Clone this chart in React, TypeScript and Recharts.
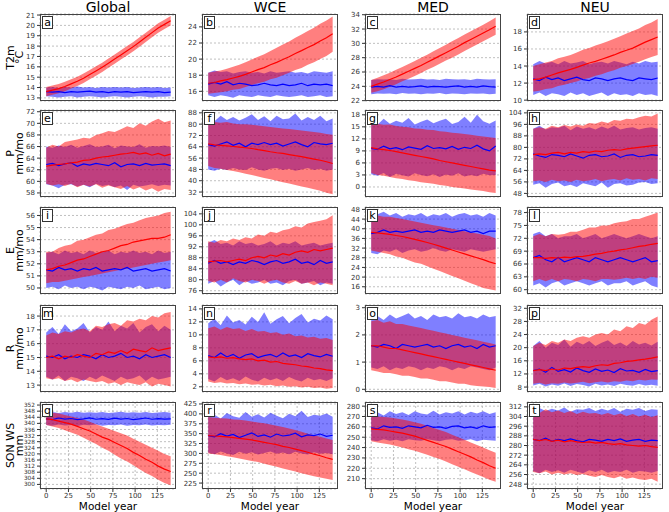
import { ComposedChart, Area, Line, XAxis, YAxis, CartesianGrid } from 'recharts';

const years = [0, 7, 14, 21, 28, 35, 42, 49, 56, 63, 70, 77, 84, 91, 98, 105, 112, 119, 126, 133, 140];
const columnTitles = ['Global', 'WCE', 'MED', 'NEU'];
const rowLabels = [['T2m', '°C'], ['P', 'mm/mo'], ['E', 'mm/mo'], ['R', 'mm/mo'], ['SON WS', 'mm']];
const xTicks = [0, 25, 50, 75, 100, 125];

// a: T2m Global
const aRedMid = [13.6, 13.75, 13.9, 14.1, 14.35, 14.6, 14.9, 15.25, 15.6, 15.95, 16.35, 16.75, 17.15, 17.55, 17.95, 18.4, 18.85, 19.3, 19.75, 20.1, 20.45];
const aRedLo = [13.15, 13.3, 13.45, 13.65, 13.9, 14.15, 14.45, 14.8, 15.15, 15.5, 15.9, 16.3, 16.7, 17.1, 17.5, 17.95, 18.4, 18.85, 19.3, 19.65, 20.0];
const aRedHi = [14.05, 14.2, 14.35, 14.55, 14.8, 15.05, 15.35, 15.7, 16.05, 16.4, 16.8, 17.2, 17.6, 18.0, 18.4, 18.85, 19.3, 19.75, 20.2, 20.55, 20.9];
const aBlueMid = [13.6, 13.55, 13.6, 13.5, 13.6, 13.55, 13.6, 13.65, 13.55, 13.6, 13.5, 13.6, 13.55, 13.6, 13.5, 13.55, 13.6, 13.55, 13.6, 13.5, 13.55];
const aBlueLo = [13.15, 13.1, 13.05, 13.1, 13.15, 13.05, 13.1, 13.15, 13.1, 13.05, 13.1, 13.15, 13.1, 13.05, 13.1, 13.15, 13.1, 13.05, 13.1, 13.1, 13.15];
const aBlueHi = [14.0, 14.05, 13.95, 14.05, 14.0, 14.1, 14.0, 14.05, 13.95, 14.05, 14.0, 14.05, 14.0, 14.05, 13.95, 14.0, 14.05, 14.0, 14.05, 13.95, 14.0];
const aTicks = [13, 14, 15, 16, 17, 18, 19, 20, 21];

// b: T2m WCE
const bRedMid = [17.0, 17.1, 17.3, 17.45, 17.65, 17.85, 18.1, 18.4, 18.7, 18.95, 19.3, 19.6, 19.95, 20.3, 20.7, 21.05, 21.45, 21.8, 22.25, 22.65, 23.15];
const bRedLo = [15.7, 15.8, 15.9, 16.0, 16.2, 16.3, 16.55, 16.8, 17.0, 17.2, 17.5, 17.7, 18.0, 18.3, 18.65, 18.9, 19.3, 19.6, 20.0, 20.4, 20.9];
const bRedHi = [18.3, 18.45, 18.6, 18.8, 19.05, 19.3, 19.6, 19.95, 20.3, 20.6, 21.0, 21.4, 21.8, 22.2, 22.65, 23.05, 23.5, 23.9, 24.4, 24.8, 25.3];
const bBlueMid = [16.9, 17.1, 16.9, 17.2, 16.8, 17.0, 16.9, 16.7, 16.8, 17.0, 16.8, 16.7, 16.9, 16.7, 16.8, 17.0, 16.7, 16.9, 16.8, 16.9, 16.7];
const bBlueLo = [15.5, 15.3, 15.5, 15.4, 15.2, 15.5, 15.4, 15.3, 15.5, 15.4, 15.3, 15.5, 15.4, 15.3, 15.4, 15.5, 15.3, 15.4, 15.5, 15.3, 15.4];
const bBlueHi = [18.3, 18.6, 18.4, 18.5, 18.2, 18.4, 18.5, 18.3, 18.4, 18.2, 18.5, 18.3, 18.4, 18.5, 18.3, 18.4, 18.2, 18.5, 18.4, 18.3, 18.5];
const bTicks = [16, 18, 20, 22, 24];

// c: T2m MED
const cRedMid = [24.0, 24.3, 24.6, 24.95, 25.3, 25.7, 26.1, 26.5, 26.9, 27.35, 27.8, 28.25, 28.7, 29.15, 29.6, 30.1, 30.55, 31.0, 31.45, 31.9, 32.4];
const cRedLo = [23.1, 23.3, 23.6, 23.95, 24.3, 24.7, 25.05, 25.45, 25.85, 26.3, 26.7, 27.15, 27.6, 28.0, 28.45, 28.95, 29.4, 29.85, 30.3, 30.75, 31.2];
const cRedHi = [24.9, 25.2, 25.55, 25.9, 26.3, 26.7, 27.1, 27.55, 28.0, 28.4, 28.9, 29.35, 29.8, 30.3, 30.75, 31.25, 31.7, 32.15, 32.6, 33.1, 33.6];
const cBlueMid = [23.9, 24.0, 23.9, 24.1, 23.9, 24.0, 23.9, 23.95, 24.05, 23.9, 24.0, 23.95, 23.9, 24.0, 24.05, 23.9, 24.0, 23.9, 24.05, 23.95, 23.9];
const cBlueLo = [22.9, 23.0, 22.95, 23.0, 22.9, 23.05, 22.95, 23.0, 22.9, 23.0, 22.95, 23.05, 22.9, 23.0, 22.95, 22.9, 23.0, 22.95, 23.0, 22.9, 22.95];
const cBlueHi = [24.9, 25.0, 24.95, 25.0, 24.9, 25.05, 24.95, 25.0, 25.05, 24.95, 25.0, 24.9, 25.05, 25.0, 24.95, 25.0, 24.9, 25.05, 25.0, 24.95, 25.0];
const cTicks = [22, 24, 26, 28, 30, 32, 34];

// d: T2m NEU
const dRedMid = [12.4, 12.5, 12.7, 12.95, 13.2, 13.4, 13.6, 13.85, 14.1, 14.35, 14.55, 14.8, 15.05, 15.3, 15.6, 15.85, 16.1, 16.45, 16.8, 17.1, 17.4];
const dRedLo = [11.0, 11.1, 11.3, 11.4, 11.65, 11.8, 12.0, 12.2, 12.45, 12.6, 12.85, 13.05, 13.3, 13.5, 13.8, 14.0, 14.25, 14.5, 14.8, 15.05, 15.3];
const dRedHi = [14.0, 14.2, 14.4, 14.6, 14.9, 15.1, 15.3, 15.6, 15.9, 16.1, 16.4, 16.65, 16.9, 17.2, 17.5, 17.8, 18.1, 18.4, 18.8, 19.1, 19.5];
const dBlueMid = [12.5, 12.3, 12.7, 12.4, 12.6, 12.3, 12.5, 12.7, 12.4, 12.3, 12.6, 12.5, 12.3, 12.5, 12.6, 12.4, 12.3, 12.6, 12.5, 12.4, 12.6];
const dBlueLo = [10.6, 10.9, 10.5, 10.8, 10.7, 10.5, 10.9, 10.6, 10.8, 10.5, 10.7, 10.9, 10.5, 10.8, 10.6, 10.7, 10.5, 10.8, 10.6, 10.7, 10.5];
const dBlueHi = [14.2, 14.6, 14.3, 14.5, 14.2, 14.6, 14.3, 14.4, 14.6, 14.2, 14.4, 14.5, 14.3, 14.6, 14.4, 14.2, 14.5, 14.3, 14.6, 14.4, 14.5];
const dTicks = [10, 12, 14, 16, 18];

// e: P Global
const eRedMid = [62.6, 62.8, 62.9, 63.0, 63.2, 63.3, 63.6, 63.7, 64.0, 64.2, 64.3, 64.5, 64.7, 64.8, 65.0, 64.7, 64.9, 64.5, 64.8, 64.4, 64.7];
const eRedLo = [59.6, 59.3, 59.5, 59.2, 59.6, 59.0, 59.4, 59.1, 59.5, 58.9, 59.3, 59.0, 58.7, 59.2, 58.6, 59.0, 58.4, 58.8, 58.2, 58.7, 58.5];
const eRedHi = [65.8, 66.3, 66.0, 66.8, 67.0, 67.2, 67.5, 67.4, 68.0, 68.3, 68.7, 68.5, 69.0, 69.5, 69.2, 70.0, 69.6, 70.3, 70.8, 70.2, 70.5];
const eBlueMid = [62.9, 63.1, 62.7, 63.0, 63.2, 62.6, 63.0, 62.8, 63.1, 62.9, 62.7, 63.2, 62.5, 62.9, 63.0, 62.7, 63.1, 62.8, 62.9, 63.0, 62.7];
const eBlueLo = [59.5, 59.3, 58.8, 59.4, 59.5, 59.1, 59.4, 59.0, 59.6, 59.2, 59.4, 59.0, 59.3, 58.5, 59.4, 59.1, 59.3, 59.5, 59.2, 59.4, 59.3];
const eBlueHi = [66.0, 65.8, 66.2, 65.9, 66.3, 65.8, 66.1, 66.4, 65.9, 66.0, 66.3, 65.7, 66.2, 66.0, 65.9, 66.4, 65.8, 66.1, 66.0, 66.2, 65.9];
const eTicks = [58, 60, 62, 64, 66, 68, 70, 72];

// f: P WCE
const fRedMid = [66.0, 65.4, 65.0, 64.6, 64.2, 63.8, 63.3, 62.8, 62.0, 61.3, 60.5, 59.8, 59.3, 58.5, 57.7, 57.0, 56.2, 55.3, 54.5, 53.4, 52.2];
const fRedLo = [50.5, 49.0, 48.5, 47.5, 46.8, 46.0, 45.0, 44.0, 43.0, 42.0, 41.0, 40.0, 39.0, 38.0, 37.0, 36.0, 35.0, 34.0, 33.0, 31.5, 30.5];
const fRedHi = [82.0, 81.5, 81.0, 81.5, 80.5, 80.0, 80.0, 79.5, 79.0, 78.5, 78.0, 77.5, 77.0, 76.5, 76.0, 75.5, 75.0, 74.5, 74.0, 73.0, 72.5];
const fBlueMid = [65.5, 64.5, 66.0, 67.5, 65.0, 66.5, 64.0, 66.5, 65.5, 67.0, 65.5, 66.5, 64.5, 66.0, 67.5, 65.5, 64.0, 67.0, 66.0, 65.5, 66.5];
const fBlueLo = [48.0, 47.0, 48.5, 47.5, 49.0, 48.0, 47.5, 49.5, 48.0, 47.0, 48.5, 49.0, 47.5, 48.5, 47.0, 48.0, 49.0, 47.5, 48.5, 47.0, 48.0];
const fBlueHi = [84.0, 82.0, 86.0, 83.0, 85.0, 82.5, 84.5, 87.0, 83.0, 85.5, 82.0, 86.0, 83.5, 84.0, 87.5, 82.5, 85.0, 83.0, 86.0, 82.0, 84.0];
const fTicks = [32, 40, 48, 56, 64, 72, 80, 88];

// g: P MED
const gRedMid = [9.8, 9.5, 9.3, 9.1, 8.8, 8.5, 8.2, 7.9, 7.6, 7.3, 7.0, 6.6, 6.3, 6.0, 5.7, 5.4, 5.1, 4.8, 4.5, 4.2, 4.0];
const gRedLo = [3.5, 3.0, 2.8, 2.5, 2.2, 2.0, 1.7, 1.5, 1.2, 1.0, 0.8, 0.5, 0.3, 0.0, -0.2, -0.4, -0.6, -0.8, -1.0, -1.3, -1.5];
const gRedHi = [16.0, 15.8, 15.5, 15.6, 15.2, 15.0, 14.9, 14.6, 14.5, 14.3, 14.2, 13.9, 13.8, 13.5, 13.4, 13.2, 13.0, 12.8, 12.6, 12.4, 12.2];
const gBlueMid = [9.6, 9.4, 10.2, 9.5, 9.8, 9.3, 10.0, 9.7, 9.4, 10.3, 9.6, 9.8, 9.5, 10.1, 9.4, 9.9, 9.6, 10.4, 9.5, 9.0, 10.2];
const gBlueLo = [3.2, 2.8, 3.5, 2.5, 3.3, 2.9, 2.6, 3.4, 3.0, 2.7, 3.2, 2.5, 3.1, 2.8, 3.4, 2.6, 3.0, 2.7, 3.3, 2.9, 3.0];
const gBlueHi = [16.2, 15.5, 17.0, 15.8, 16.5, 16.0, 17.2, 15.6, 16.3, 16.8, 15.9, 16.5, 17.0, 15.7, 16.2, 17.5, 16.0, 18.0, 16.4, 15.8, 16.6];
const gTicks = [0, 3, 6, 9, 12, 15, 18];

// h: P NEU
const hRedMid = [75.0, 75.5, 75.0, 76.0, 76.5, 75.5, 76.5, 76.0, 77.0, 76.5, 77.5, 77.0, 78.0, 78.5, 78.0, 79.0, 79.5, 80.0, 80.5, 81.0, 81.5];
const hRedLo = [56.5, 57.0, 56.0, 57.5, 56.5, 57.0, 56.0, 57.5, 56.5, 57.0, 58.0, 56.5, 57.5, 58.0, 57.0, 58.5, 57.5, 58.0, 57.0, 58.5, 58.0];
const hRedHi = [93.0, 94.0, 93.0, 95.0, 94.0, 95.5, 94.5, 96.0, 95.0, 97.0, 96.5, 98.0, 97.0, 99.0, 98.5, 100.0, 99.5, 101.0, 102.0, 101.5, 103.5];
const hBlueMid = [75.5, 74.0, 73.0, 75.0, 74.5, 73.5, 75.5, 74.0, 72.5, 74.5, 75.0, 73.5, 74.0, 75.5, 73.0, 74.5, 75.0, 73.5, 74.0, 75.0, 74.5];
const hBlueLo = [54.0, 55.0, 52.0, 54.5, 55.5, 53.0, 54.0, 52.5, 55.0, 54.0, 53.0, 55.5, 52.0, 54.5, 55.0, 53.5, 54.0, 55.5, 56.0, 54.5, 55.0];
const hBlueHi = [93.0, 95.0, 92.5, 94.0, 93.5, 95.0, 92.0, 94.5, 93.0, 94.0, 92.5, 94.5, 93.0, 95.0, 92.5, 93.5, 94.0, 92.5, 93.5, 94.0, 93.0];
const hTicks = [48, 56, 64, 72, 80, 88, 96, 104];

// i: E Global
const iRedMid = [51.5, 51.6, 51.8, 51.9, 52.1, 52.3, 52.4, 52.6, 52.8, 53.0, 53.1, 53.3, 53.5, 53.6, 53.8, 53.9, 54.0, 54.1, 54.1, 54.2, 54.4];
const iRedLo = [50.4, 50.5, 50.5, 50.6, 50.7, 50.8, 50.9, 51.0, 51.1, 51.2, 51.3, 51.4, 51.5, 51.6, 51.7, 51.8, 51.9, 52.0, 52.1, 52.2, 52.3];
const iRedHi = [53.0, 53.0, 53.3, 53.5, 53.6, 53.9, 54.0, 54.2, 54.4, 54.5, 54.8, 54.9, 55.1, 55.3, 55.4, 55.6, 55.8, 55.9, 56.0, 56.2, 56.3];
const iBlueMid = [51.5, 51.4, 51.7, 51.5, 51.6, 51.4, 51.6, 51.5, 51.7, 51.4, 51.5, 51.6, 51.5, 51.7, 51.4, 51.5, 51.6, 51.4, 51.5, 51.6, 51.4];
const iBlueLo = [50.0, 50.1, 49.9, 50.2, 50.0, 50.1, 49.9, 50.1, 50.0, 49.8, 50.1, 50.0, 49.9, 50.1, 50.0, 50.2, 49.9, 50.0, 50.1, 49.9, 50.0];
const iBlueHi = [52.9, 53.0, 52.8, 53.1, 52.9, 53.0, 52.8, 53.1, 52.9, 53.0, 53.1, 52.8, 53.0, 52.9, 53.1, 52.9, 53.0, 52.8, 53.1, 52.9, 53.0];
const iTicks = [50, 51, 52, 53, 54, 55, 56];

// j: E WCE
const jRedMid = [86.5, 86.8, 87.0, 86.5, 87.0, 87.5, 87.0, 88.0, 88.5, 88.0, 89.0, 88.5, 89.5, 89.0, 90.0, 90.5, 90.0, 91.0, 90.5, 91.0, 91.5];
const jRedLo = [79.5, 79.0, 80.0, 79.0, 80.5, 79.5, 79.0, 80.0, 79.5, 78.5, 79.5, 80.0, 79.0, 78.5, 79.5, 78.5, 79.0, 78.0, 79.0, 78.5, 78.0];
const jRedHi = [94.0, 93.5, 94.5, 94.0, 95.0, 94.5, 95.5, 95.0, 96.5, 96.0, 97.5, 97.0, 98.0, 98.5, 99.5, 99.0, 100.5, 101.0, 101.5, 102.0, 103.5];
const jBlueMid = [86.0, 87.0, 86.0, 86.5, 85.5, 86.5, 86.0, 87.0, 86.5, 85.5, 86.5, 87.0, 86.0, 86.5, 87.5, 86.0, 86.5, 85.5, 87.0, 86.0, 86.5];
const jBlueLo = [78.5, 79.5, 77.5, 79.0, 80.0, 78.0, 79.5, 78.5, 79.0, 80.0, 78.5, 79.0, 78.0, 79.5, 80.0, 78.5, 79.0, 79.5, 78.0, 79.0, 78.5];
const jBlueHi = [93.5, 94.5, 93.0, 93.5, 92.5, 94.0, 93.0, 93.5, 92.5, 93.0, 94.0, 92.5, 93.5, 93.0, 94.0, 92.5, 93.0, 93.5, 92.5, 93.0, 93.5];
const jTicks = [76, 80, 84, 88, 92, 96, 100, 104];

// k: E MED
const kRedMid = [38.5, 38.3, 38.0, 37.7, 37.2, 36.8, 36.2, 35.6, 35.0, 34.3, 33.6, 32.8, 32.0, 31.2, 30.4, 29.6, 28.8, 28.0, 27.2, 26.3, 25.5];
const kRedLo = [31.0, 30.5, 30.0, 29.5, 28.5, 28.0, 27.0, 26.0, 25.5, 24.5, 23.5, 22.5, 21.5, 20.5, 19.5, 18.5, 17.5, 16.5, 15.5, 15.0, 14.5];
const kRedHi = [45.5, 45.5, 45.0, 45.0, 44.5, 44.0, 43.5, 43.0, 42.5, 42.0, 41.5, 41.0, 40.5, 40.0, 39.5, 39.0, 38.5, 38.0, 37.5, 37.0, 36.0];
const kBlueMid = [38.0, 38.5, 39.5, 38.5, 39.0, 38.5, 39.0, 39.5, 38.5, 39.0, 38.5, 39.5, 39.0, 38.5, 39.0, 39.5, 38.5, 39.0, 38.0, 39.0, 39.0];
const kBlueLo = [30.0, 29.5, 31.0, 30.5, 31.5, 30.0, 31.0, 31.5, 30.5, 31.0, 32.0, 31.0, 30.5, 31.5, 31.0, 30.5, 31.5, 31.0, 30.5, 31.0, 31.5];
const kBlueHi = [45.5, 46.0, 47.0, 45.5, 46.5, 45.0, 46.0, 45.5, 46.5, 45.0, 46.0, 45.5, 46.5, 45.0, 46.0, 46.5, 45.5, 46.0, 45.0, 46.5, 45.5];
const kTicks = [16, 20, 24, 28, 32, 36, 40, 44, 48];

// l: E NEU
const lRedMid = [67.5, 67.5, 67.3, 67.5, 67.4, 67.6, 67.5, 67.7, 67.8, 68.0, 68.3, 68.5, 68.8, 69.0, 69.3, 69.5, 69.8, 70.1, 70.3, 70.6, 70.8];
const lRedLo = [62.0, 62.5, 62.0, 62.5, 62.0, 62.5, 62.3, 62.0, 62.5, 62.3, 62.0, 62.5, 62.5, 62.3, 62.5, 62.8, 62.5, 62.8, 62.5, 63.0, 62.8];
const lRedHi = [72.5, 73.0, 72.5, 73.0, 72.8, 73.0, 73.5, 73.5, 74.0, 74.5, 74.5, 75.0, 75.0, 75.5, 75.8, 76.0, 76.5, 76.5, 77.0, 77.5, 78.0];
const lBlueMid = [67.5, 68.0, 67.0, 66.5, 67.5, 66.5, 67.0, 67.5, 67.0, 66.5, 67.5, 67.0, 66.5, 67.0, 67.5, 67.0, 66.5, 67.0, 67.5, 66.5, 66.8];
const lBlueLo = [61.0, 61.5, 60.5, 61.5, 62.0, 61.0, 61.5, 62.0, 61.5, 61.0, 61.5, 62.0, 61.0, 61.5, 61.5, 62.0, 61.0, 61.5, 62.0, 61.0, 60.5];
const lBlueHi = [73.0, 73.5, 72.5, 73.0, 72.0, 72.5, 72.5, 73.0, 72.0, 72.5, 73.0, 72.0, 72.5, 73.0, 72.5, 72.0, 72.5, 73.0, 72.5, 72.0, 72.5];
const lTicks = [60, 63, 66, 69, 72, 75, 78];

// m: R Global
const mRedMid = [15.0, 15.1, 14.9, 15.1, 15.0, 15.2, 15.1, 15.0, 15.3, 15.2, 15.4, 15.3, 15.5, 15.3, 15.6, 15.5, 15.4, 15.7, 15.5, 15.6, 15.7];
const mRedLo = [13.5, 13.4, 13.5, 13.3, 13.4, 13.2, 13.4, 13.3, 13.2, 13.3, 13.1, 13.2, 13.0, 13.2, 13.1, 13.0, 13.2, 12.9, 13.1, 13.0, 12.9];
const mRedHi = [16.6, 16.8, 16.7, 16.9, 16.8, 17.0, 17.1, 16.9, 17.3, 17.2, 17.4, 17.5, 17.3, 17.7, 17.6, 17.8, 17.7, 18.0, 17.9, 18.2, 18.3];
const mBlueMid = [15.1, 15.0, 15.2, 14.9, 15.1, 15.0, 15.2, 15.1, 14.9, 15.2, 15.0, 15.1, 15.3, 15.0, 15.1, 14.9, 15.2, 15.0, 15.1, 15.2, 15.0];
const mBlueLo = [13.6, 13.4, 13.7, 13.3, 13.6, 13.5, 13.3, 13.6, 13.4, 13.7, 13.5, 13.3, 13.6, 13.4, 13.5, 13.7, 13.3, 13.6, 13.4, 13.5, 13.6];
const mBlueHi = [16.8, 17.2, 16.7, 17.4, 16.9, 17.1, 17.5, 16.8, 17.2, 17.0, 17.6, 16.9, 17.3, 17.1, 17.5, 16.8, 17.2, 17.4, 16.9, 17.3, 17.0];
const mTicks = [13, 14, 15, 16, 17, 18];

// n: R WCE
const nRedMid = [6.6, 6.5, 6.6, 6.4, 6.5, 6.3, 6.2, 6.3, 6.0, 6.1, 5.8, 5.9, 5.6, 5.5, 5.4, 5.2, 5.1, 4.9, 4.8, 4.6, 4.5];
const nRedLo = [2.8, 2.6, 2.7, 2.5, 2.6, 2.4, 2.5, 2.3, 2.4, 2.2, 2.3, 2.1, 2.2, 2.0, 2.1, 1.9, 2.0, 1.8, 1.9, 1.7, 1.8];
const nRedHi = [11.0, 11.3, 10.8, 11.2, 10.9, 11.0, 10.6, 10.9, 10.5, 10.6, 10.3, 10.4, 10.0, 10.2, 9.8, 9.9, 9.6, 9.7, 9.4, 9.5, 9.2];
const nBlueMid = [6.8, 6.5, 7.2, 6.6, 7.0, 6.4, 6.9, 7.1, 6.5, 6.8, 7.0, 6.6, 7.2, 6.7, 6.9, 6.5, 7.1, 6.8, 6.6, 7.0, 6.7];
const nBlueLo = [3.2, 2.8, 3.5, 3.0, 3.3, 2.9, 3.6, 3.1, 2.8, 3.4, 3.0, 3.3, 2.9, 3.5, 3.1, 2.8, 3.4, 3.0, 3.2, 2.9, 3.3];
const nBlueHi = [11.8, 12.5, 11.5, 13.0, 11.9, 12.3, 11.6, 12.8, 12.0, 13.5, 11.7, 12.4, 12.9, 11.8, 12.6, 13.2, 11.9, 12.5, 12.2, 13.0, 12.4];
const nTicks = [2, 4, 6, 8, 10, 12, 14];

// o: R MED
const oRedMid = [1.6, 1.6, 1.55, 1.5, 1.5, 1.45, 1.4, 1.35, 1.3, 1.25, 1.2, 1.15, 1.1, 1.05, 1.0, 0.95, 0.9, 0.85, 0.8, 0.75, 0.7];
const oRedLo = [0.7, 0.65, 0.6, 0.6, 0.55, 0.5, 0.5, 0.45, 0.4, 0.4, 0.35, 0.3, 0.3, 0.25, 0.2, 0.2, 0.15, 0.12, 0.1, 0.08, 0.05];
const oRedHi = [2.5, 2.55, 2.45, 2.5, 2.4, 2.4, 2.35, 2.3, 2.25, 2.2, 2.15, 2.1, 2.05, 2.0, 1.95, 1.9, 1.85, 1.8, 1.75, 1.7, 1.65];
const oBlueMid = [1.6, 1.55, 1.65, 1.6, 1.5, 1.65, 1.6, 1.55, 1.6, 1.65, 1.55, 1.6, 1.5, 1.6, 1.65, 1.55, 1.6, 1.5, 1.65, 1.55, 1.6];
const oBlueLo = [0.8, 0.75, 0.85, 0.7, 0.8, 0.75, 0.85, 0.8, 0.7, 0.8, 0.75, 0.85, 0.8, 0.7, 0.8, 0.75, 0.85, 0.8, 0.75, 0.7, 0.8];
const oBlueHi = [2.6, 2.7, 2.55, 2.75, 2.6, 2.7, 2.8, 2.6, 2.7, 2.55, 2.75, 2.65, 2.7, 2.6, 2.8, 2.65, 2.7, 2.6, 2.75, 2.65, 2.7];
const oTicks = [0, 1, 2, 3];

// p: R NEU
const pRedMid = [13.0, 13.3, 13.0, 13.5, 13.2, 13.8, 13.6, 14.0, 14.2, 14.0, 14.5, 14.8, 14.6, 15.2, 15.4, 15.8, 16.0, 16.3, 16.5, 16.8, 17.2];
const pRedLo = [9.0, 9.3, 8.8, 9.2, 9.0, 9.4, 9.1, 9.3, 9.6, 9.2, 9.5, 9.7, 9.4, 9.8, 9.6, 10.0, 9.8, 10.2, 10.0, 10.3, 10.2];
const pRedHi = [20.5, 21.5, 20.8, 22.0, 21.5, 22.5, 22.0, 23.0, 23.5, 23.0, 24.0, 24.5, 24.0, 25.5, 25.0, 26.5, 26.0, 27.5, 27.0, 28.5, 29.5];
const pBlueMid = [13.0, 13.5, 12.5, 14.0, 12.8, 13.3, 12.6, 13.8, 13.0, 12.5, 13.5, 12.8, 13.2, 12.4, 13.6, 12.9, 13.1, 12.5, 13.4, 12.7, 13.0];
const pBlueLo = [8.5, 9.0, 8.2, 8.8, 8.4, 9.1, 8.3, 8.9, 8.6, 8.2, 9.0, 8.5, 8.8, 8.3, 9.0, 8.6, 8.4, 8.9, 8.5, 8.7, 8.4];
const pBlueHi = [20.5, 22.0, 20.0, 21.5, 20.8, 22.5, 20.3, 21.8, 21.0, 22.0, 20.5, 21.5, 22.3, 20.8, 21.6, 20.5, 22.0, 21.0, 21.5, 20.7, 21.8];
const pTicks = [8, 12, 16, 20, 24, 28, 32];

// q: SON WS Global
const qRedMid = [343.0, 342.5, 341.5, 340.5, 339.5, 338.0, 336.5, 335.0, 333.0, 331.0, 329.5, 327.5, 325.5, 323.5, 321.0, 319.0, 316.5, 314.5, 312.0, 310.0, 308.5];
const qRedLo = [339.0, 338.0, 337.0, 335.5, 334.0, 332.5, 330.5, 328.5, 326.5, 324.0, 322.0, 319.5, 317.0, 315.0, 312.5, 310.0, 307.5, 305.5, 303.0, 301.0, 299.5];
const qRedHi = [347.5, 347.0, 346.5, 345.5, 344.5, 343.5, 342.5, 341.0, 339.5, 338.0, 336.5, 335.0, 333.5, 332.0, 330.0, 328.0, 326.0, 324.0, 322.0, 320.0, 318.5];
const qBlueMid = [343.0, 342.5, 343.5, 342.8, 343.2, 342.5, 343.0, 343.6, 342.7, 343.1, 342.6, 343.4, 342.8, 343.2, 342.5, 343.0, 343.5, 342.7, 343.1, 342.8, 343.0];
const qBlueLo = [339.0, 338.5, 339.2, 338.6, 339.0, 338.3, 339.1, 338.7, 339.3, 338.5, 339.0, 338.8, 339.2, 338.4, 339.0, 338.7, 339.3, 338.6, 339.0, 338.8, 339.1];
const qBlueHi = [347.0, 347.5, 346.8, 347.4, 347.0, 347.6, 346.9, 347.3, 347.0, 347.5, 346.8, 347.2, 347.6, 346.9, 347.3, 347.0, 347.5, 346.8, 347.2, 347.4, 347.0];
const qTicks = [300, 304, 308, 312, 316, 320, 324, 328, 332, 336, 340, 344, 348, 352];

// r: SON WS WCE
const rRedMid = [345, 344, 343, 342, 340, 338, 336, 334, 331, 328, 325, 322, 318, 315, 311, 307, 303, 298, 294, 289, 285];
const rRedLo = [300, 298, 296, 293, 290, 287, 284, 281, 278, 274, 270, 266, 262, 258, 254, 250, 246, 242, 239, 236, 233];
const rRedHi = [392, 390, 389, 388, 386, 385, 383, 381, 378, 376, 373, 370, 367, 363, 359, 355, 350, 346, 342, 338, 334];
const rBlueMid = [345, 342, 350, 344, 348, 340, 346, 352, 343, 347, 341, 349, 344, 346, 351, 342, 347, 345, 349, 343, 346];
const rBlueLo = [302, 298, 305, 300, 296, 304, 299, 303, 297, 301, 305, 299, 302, 298, 304, 300, 297, 303, 299, 301, 298];
const rBlueHi = [392, 398, 388, 402, 394, 390, 405, 393, 399, 391, 403, 395, 389, 400, 394, 408, 392, 398, 395, 401, 393];
const rTicks = [225, 250, 275, 300, 325, 350, 375, 400, 425];

// s: SON WS MED
const sRedMid = [258, 257.5, 257, 256, 255, 254, 252.5, 251, 249, 247, 245, 243, 241, 238.5, 236, 233.5, 231, 228, 225.5, 222.5, 220];
const sRedLo = [246, 245, 244, 243, 241.5, 240, 238.5, 237, 235, 233, 231, 229, 226.5, 224, 221.5, 219, 216.5, 214, 211.5, 209, 207];
const sRedHi = [270, 270, 269.5, 269, 268, 267, 266, 264.5, 263, 261, 259, 257, 255, 252.5, 250, 247.5, 245, 242.5, 240, 237.5, 235];
const sBlueMid = [259, 258, 261, 259.5, 260, 258.5, 261, 260, 259, 261.5, 259.5, 260, 258.5, 260.5, 261, 259, 260, 258.5, 261, 259.5, 260];
const sBlueLo = [247, 246, 248, 246.5, 247.5, 246, 248, 247, 246.5, 248, 247, 246, 247.5, 248, 246.5, 247, 248, 246, 247.5, 247, 246.5];
const sBlueHi = [272, 274, 271, 275, 272.5, 274, 271.5, 275, 273, 272, 275.5, 272, 274, 273, 275, 272, 274.5, 273, 275, 272.5, 274];
const sTicks = [210, 220, 230, 240, 250, 260, 270, 280];

// t: SON WS NEU
const tRedMid = [285, 284, 285, 283.5, 284.5, 283, 284, 283, 282.5, 283, 282, 282.5, 281.5, 281, 281.5, 280.5, 280, 279.5, 280, 279, 278.5];
const tRedLo = [258, 257, 258.5, 256, 257.5, 256, 257, 255.5, 256.5, 255, 254, 255.5, 254, 253, 254.5, 252.5, 253.5, 252, 251.5, 252.5, 250];
const tRedHi = [309, 307, 310, 307.5, 309, 307, 308.5, 306, 308, 306.5, 307, 305.5, 307, 305, 306.5, 304.5, 306, 304, 305.5, 303.5, 305];
const tBlueMid = [285, 284, 286, 283.5, 285, 284, 285.5, 284, 283, 285, 284.5, 283.5, 285, 284, 285.5, 283.5, 284.5, 285, 283.5, 284.5, 284];
const tBlueLo = [259, 257, 260, 258, 259.5, 257.5, 260, 258.5, 257, 259.5, 258, 260, 257.5, 259, 258, 260, 257.5, 259, 258.5, 257.5, 259];
const tBlueHi = [309, 311, 308.5, 310.5, 309, 311.5, 308, 310, 309.5, 311, 308.5, 310.5, 309, 311, 308, 310.5, 309.5, 311, 308.5, 310, 309.5];
const tTicks = [248, 256, 264, 272, 280, 288, 296, 304, 312];

const panels = [
  { id: 'a', red: [aRedLo, aRedMid, aRedHi], blue: [aBlueLo, aBlueMid, aBlueHi], domain: [12.7, 21.1], ticks: aTicks },
  { id: 'b', red: [bRedLo, bRedMid, bRedHi], blue: [bBlueLo, bBlueMid, bBlueHi], domain: [14.8, 25.6], ticks: bTicks },
  { id: 'c', red: [cRedLo, cRedMid, cRedHi], blue: [cBlueLo, cBlueMid, cBlueHi], domain: [21.95, 34.1], ticks: cTicks },
  { id: 'd', red: [dRedLo, dRedMid, dRedHi], blue: [dBlueLo, dBlueMid, dBlueHi], domain: [9.9, 20.1], ticks: dTicks },
  { id: 'e', red: [eRedLo, eRedMid, eRedHi], blue: [eBlueLo, eBlueMid, eBlueHi], domain: [57.3, 72.3], ticks: eTicks },
  { id: 'f', red: [fRedLo, fRedMid, fRedHi], blue: [fBlueLo, fBlueMid, fBlueHi], domain: [28.5, 90], ticks: fTicks },
  { id: 'g', red: [gRedLo, gRedMid, gRedHi], blue: [gBlueLo, gBlueMid, gBlueHi], domain: [-2.5, 19.2], ticks: gTicks },
  { id: 'h', red: [hRedLo, hRedMid, hRedHi], blue: [hBlueLo, hBlueMid, hBlueHi], domain: [45.5, 106], ticks: hTicks },
  { id: 'i', red: [iRedLo, iRedMid, iRedHi], blue: [iBlueLo, iBlueMid, iBlueHi], domain: [49.5, 56.7], ticks: iTicks },
  { id: 'j', red: [jRedLo, jRedMid, jRedHi], blue: [jBlueLo, jBlueMid, jBlueHi], domain: [74.8, 106.5], ticks: jTicks },
  { id: 'k', red: [kRedLo, kRedMid, kRedHi], blue: [kBlueLo, kBlueMid, kBlueHi], domain: [13, 49], ticks: kTicks },
  { id: 'l', red: [lRedLo, lRedMid, lRedHi], blue: [lBlueLo, lBlueMid, lBlueHi], domain: [59, 79.3], ticks: lTicks },
  { id: 'm', red: [mRedLo, mRedMid, mRedHi], blue: [mBlueLo, mBlueMid, mBlueHi], domain: [12.5, 18.8], ticks: mTicks },
  { id: 'n', red: [nRedLo, nRedMid, nRedHi], blue: [nBlueLo, nBlueMid, nBlueHi], domain: [1.2, 14.6], ticks: nTicks },
  { id: 'o', red: [oRedLo, oRedMid, oRedHi], blue: [oBlueLo, oBlueMid, oBlueHi], domain: [-0.1, 3.1], ticks: oTicks },
  { id: 'p', red: [pRedLo, pRedMid, pRedHi], blue: [pBlueLo, pBlueMid, pBlueHi], domain: [6.5, 33], ticks: pTicks },
  { id: 'q', red: [qRedLo, qRedMid, qRedHi], blue: [qBlueLo, qBlueMid, qBlueHi], domain: [297, 354], ticks: qTicks },
  { id: 'r', red: [rRedLo, rRedMid, rRedHi], blue: [rBlueLo, rBlueMid, rBlueHi], domain: [210, 430], ticks: rTicks },
  { id: 's', red: [sRedLo, sRedMid, sRedHi], blue: [sBlueLo, sBlueMid, sBlueHi], domain: [200, 284], ticks: sTicks },
  { id: 't', red: [tRedLo, tRedMid, tRedHi], blue: [tBlueLo, tBlueMid, tBlueHi], domain: [244, 316], ticks: tTicks },
];

const colLeft = [40, 202, 365, 527];
const rowTop = [14, 110, 207, 305, 402];
const plotW = 136;
const plotH = 87;
const yAxisW = 26;
const padTop = 6;
const font = 'DejaVu Sans, sans-serif';

function Panel({ p, index }: { p: any; index: number }) {
  const row = Math.floor(index / 4);
  const col = index % 4;
  const bottom = row === 4;
  const xH = bottom ? 15 : 4;
  const tickStyle = { fontSize: p.ticks.length > 10 ? 5.8 : 7, fill: '#333', fontFamily: font };
  const data = years.map((year, i) => ({
    year,
    redBand: [p.red[0][i], p.red[2][i]],
    redMid: p.red[1][i],
    blueBand: [p.blue[0][i], p.blue[2][i]],
    blueMid: p.blue[1][i],
  }));
  const left = colLeft[col];
  const top = rowTop[row];
  return (
    <>
      <div style={{ position: 'absolute', left: left - yAxisW, top: top - padTop }}>
        <ComposedChart width={plotW + yAxisW} height={plotH + xH + padTop} data={data} margin={{ top: padTop, right: 0, bottom: 0, left: 0 }}>
          <CartesianGrid stroke="#b0b0b0" strokeDasharray="2 2" strokeWidth={0.8} />
          <XAxis
            dataKey="year"
            type="number"
            domain={[-7, 146]}
            ticks={xTicks}
            allowDataOverflow
            height={xH}
            axisLine={false}
            tickSize={3}
            tickLine={{ stroke: '#333' }}
            tick={bottom ? { fontSize: 7, fill: '#333', fontFamily: font } : false}
            tickMargin={1}
            interval={0}
          />
          <YAxis
            type="number"
            domain={p.domain}
            ticks={p.ticks}
            allowDataOverflow
            width={yAxisW}
            axisLine={false}
            tickSize={3}
            tickLine={{ stroke: '#333' }}
            tick={tickStyle}
            tickMargin={2}
            interval={0}
          />
          <Area dataKey="blueBand" type="linear" stroke="none" fill="#0000ff" fillOpacity={0.5} isAnimationActive={false} />
          <Area dataKey="redBand" type="linear" stroke="none" fill="#ff0000" fillOpacity={0.5} isAnimationActive={false} />
          <Line dataKey="blueMid" type="linear" stroke="#0000ff" strokeWidth={1.2} dot={false} isAnimationActive={false} />
          <Line dataKey="redMid" type="linear" stroke="#ff0000" strokeWidth={1.2} dot={false} isAnimationActive={false} />
        </ComposedChart>
      </div>
      <div style={{ position: 'absolute', left, top, width: plotW, height: plotH, border: '1px solid #444', boxSizing: 'border-box', pointerEvents: 'none' }} />
      <div
        style={{
          position: 'absolute', left: left + 2, top: top + 2, width: 11, height: 13, border: '1px solid #333', background: '#fff',
          boxSizing: 'border-box', fontFamily: font, fontSize: 11, lineHeight: '11px', textAlign: 'center', color: '#000',
        }}
      >
        {p.id}
      </div>
    </>
  );
}

export default function App() {
  return (
    <div style={{ position: 'absolute', left: 0, top: 0, width: 669, height: 512, background: '#fff', overflow: 'hidden' }}>
      <svg width={669} height={512} style={{ position: 'absolute', left: 0, top: 0 }}>
        {columnTitles.map((t, c) => (
          <text key={t} x={colLeft[c] + plotW / 2} y={12} textAnchor="middle" fontSize={14} fontFamily={font} fill="#000">{t}</text>
        ))}
        {rowLabels.map((lab, r) => (
          <text key={r} transform={`translate(14,${rowTop[r] + plotH / 2}) rotate(-90)`} textAnchor="middle" fontSize={11} fontFamily={font} fill="#000">
            <tspan x={0} dy={0}>{lab[0]}</tspan>
            <tspan x={0} dy={9}>{lab[1]}</tspan>
          </text>
        ))}
        {columnTitles.map((t, c) => (
          <text key={'my' + t} x={colLeft[c] + plotW / 2} y={510} textAnchor="middle" fontSize={10.5} fontFamily={font} fill="#000">Model year</text>
        ))}
      </svg>
      {panels.map((p, i) => (
        <Panel key={p.id} p={p} index={i} />
      ))}
    </div>
  );
}
